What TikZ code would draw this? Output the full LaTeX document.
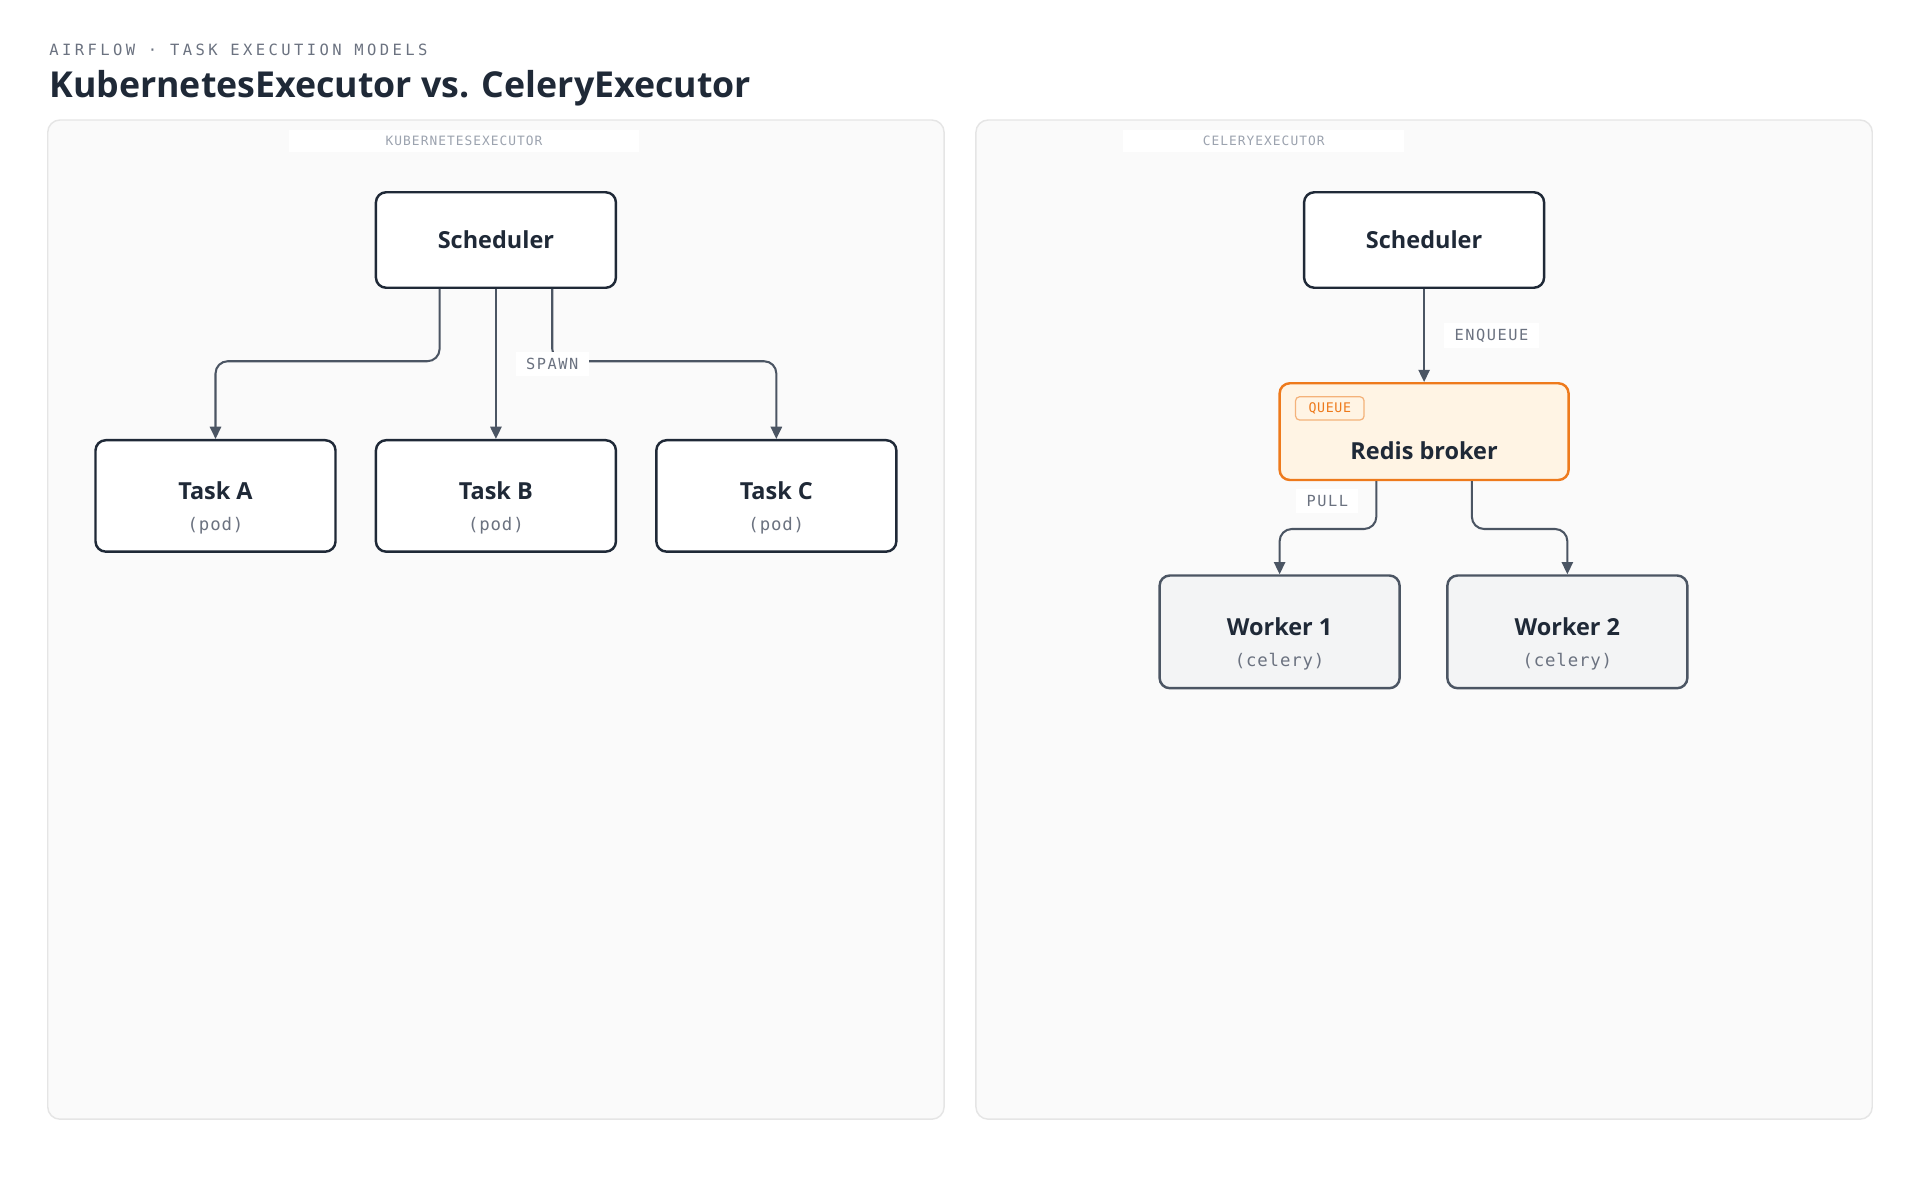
\documentclass[tikz,border=0pt]{standalone}
\usepackage{fontspec}
\setmainfont{Open Sans}
\setmonofont{DejaVu Sans Mono}
\usetikzlibrary{arrows.meta}
\definecolor{ink}{HTML}{1F2937}
\definecolor{edgec}{HTML}{4B5563}
\definecolor{muted}{HTML}{6B7280}
\definecolor{faint}{HTML}{9CA3AF}
\definecolor{panelbg}{HTML}{FAFAFA}
\definecolor{panelbd}{HTML}{E5E5E5}
\definecolor{orng}{HTML}{EE7A1C}
\definecolor{orngbg}{HTML}{FFF4E4}
\definecolor{orngl}{HTML}{F4B27A}
\definecolor{workbg}{HTML}{F3F4F5}
\begin{document}
\begin{tikzpicture}[x=0.6pt,y=-0.6pt,
  panel/.style={draw=panelbd,fill=panelbg,rounded corners=6pt,line width=0.7pt},
  box/.style={draw=ink,fill=white,rounded corners=5pt,line width=1.2pt,minimum width=196*0.6pt,inner sep=0pt,align=center,text=ink},
  hdr/.style={font=\fontsize{11.5}{13}\selectfont\bfseries},
  edge/.style={draw=edgec,line width=1pt,rounded corners=6pt,-{Triangle[length=6pt,width=5.5pt]}},
  elab/.style={fill=white,font=\ttfamily\fontsize{7.5}{9}\selectfont\addfontfeature{LetterSpace=10},text=muted,inner xsep=5pt,inner ysep=3pt},
  plab/.style={fill=white,font=\ttfamily\fontsize{6.3}{8}\selectfont\addfontfeature{LetterSpace=8},text=faint,inner ysep=3pt},
]
\useasboundingbox[fill=white] (0,0) rectangle (1568,980);
\node[anchor=base west,inner sep=0pt,font=\ttfamily\fontsize{7.6}{9}\selectfont\addfontfeature{LetterSpace=22},text=muted] (kicker) at (40,45) {AIRFLOW · TASK EXECUTION MODELS};
\node[anchor=base west,inner sep=0pt,font=\fontsize{17.5}{20}\selectfont\bfseries,text=ink] (title) at (40,80) {KubernetesExecutor vs. CeleryExecutor};

\path[panel] (39,98) rectangle (771,914);
\path[panel] (797,98) rectangle (1529,914);
\node[plab,minimum width=286*0.6pt] (lk) at (379,115) {KUBERNETESEXECUTOR};
\node[plab,minimum width=229*0.6pt] (lc) at (1032,115) {CELERYEXECUTOR};

% left
\node[box,minimum height=78*0.6pt,hdr] (ks) at (405,196) {Scheduler};
\foreach \n/\x/\t in {ta/176/A,tb/405/B,tc/634/C}{
  \node[box,minimum height=91*0.6pt] (\n) at (\x,405) {};
  \node[hdr,text=ink] (\n t) at (\x,401) {Task \t};
  \node[font=\ttfamily\fontsize{8.5}{10}\selectfont\addfontfeature{LetterSpace=5},text=muted] (\n p) at (\x,429) {(pod)};
}
\draw[edge] ([xshift=-46*0.6pt]ks.south) -- ++(0,59) -| (ta.north);
\draw[edge] (ks.south) -- (tb.north);
\draw[edge] ([xshift=46*0.6pt]ks.south) -- ++(0,59) -| (tc.north);
\node[elab] (spawn) at (451,297) {SPAWN};

% right
\node[box,minimum height=78*0.6pt,hdr] (cs) at (1163,196) {Scheduler};
\node[box,draw=orng,fill=orngbg,minimum width=236*0.6pt,minimum height=79*0.6pt] (rb) at (1163,352.5) {};
\node[hdr,text=ink] (rbt) at (1163,368) {Redis broker};
\node[draw=orngl,fill=orngbg,rounded corners=2pt,line width=0.6pt,minimum width=56*0.6pt,minimum height=19*0.6pt,inner sep=0pt,font=\ttfamily\fontsize{6.5}{8}\selectfont\addfontfeature{LetterSpace=5},text=orng] (qb) at (1086,333.5) {QUEUE};
\draw[edge] (cs.south) -- (rb.north);
\node[elab] (enq) at (1218,274) {ENQUEUE};
\foreach \n/\x/\t in {w1/1045/1,w2/1280/2}{
  \node[box,fill=workbg,draw=edgec,minimum height=92*0.6pt] (\n) at (\x,516) {};
  \node[hdr,text=ink] (\n t) at (\x,512) {Worker \t};
  \node[font=\ttfamily\fontsize{8.5}{10}\selectfont\addfontfeature{LetterSpace=5},text=muted] (\n p) at (\x,540) {(celery)};
}
\draw[edge] ([xshift=-39*0.6pt]rb.south) -- ++(0,39) -| (w1.north);
\draw[edge] ([xshift=39*0.6pt]rb.south) -- ++(0,39) -| (w2.north);
\node[elab] (pull) at (1084,409) {PULL};
\end{tikzpicture}
\end{document}
